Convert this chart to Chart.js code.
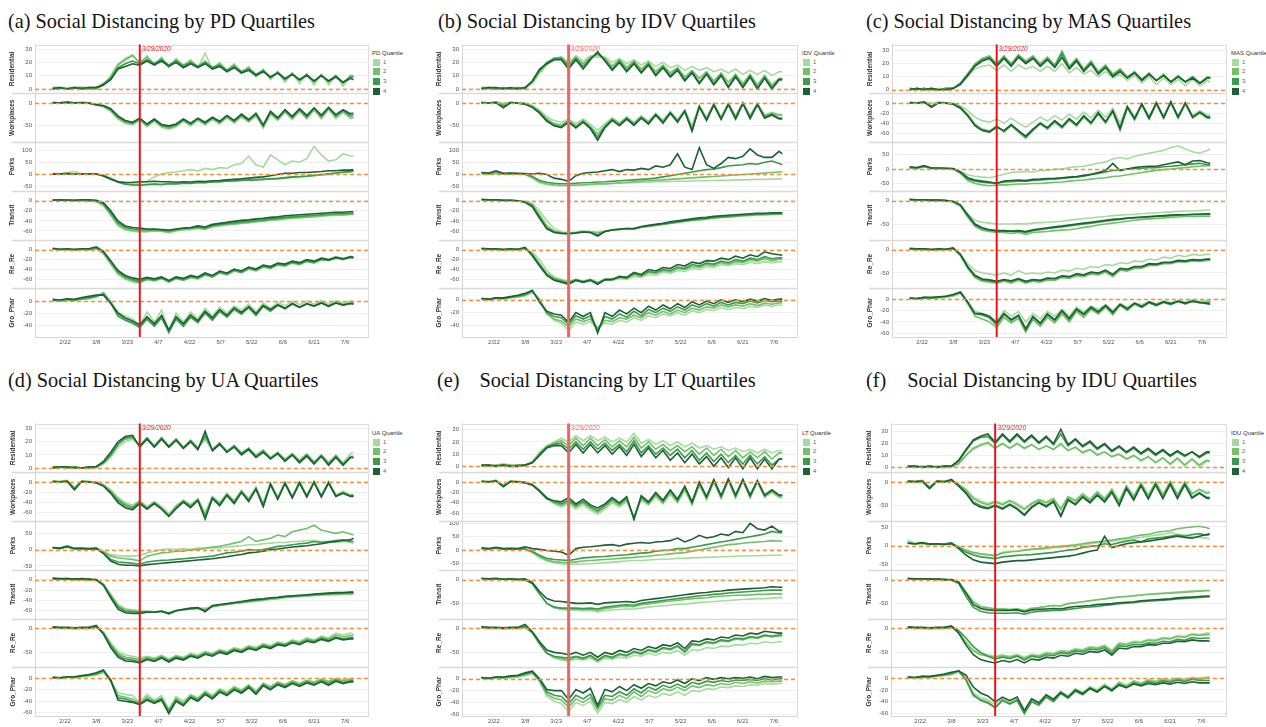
<!DOCTYPE html>
<html><head><meta charset="utf-8">
<script src="https://cdn.jsdelivr.net/npm/chart.js@4.4.1/dist/chart.umd.min.js"></script>
<style>
html,body{margin:0;padding:0;background:#fff}
body{width:1266px;height:727px;overflow:hidden;position:relative;font-family:'Liberation Sans',Arial,sans-serif}
.title{position:absolute;font-family:'Liberation Serif','Times New Roman',serif;font-size:20.3px;line-height:1;color:#151515;white-space:nowrap}
.cv{position:absolute}
.legend{position:absolute;font-size:6px;color:#333;width:60px;height:60px}
.legend .lt{position:absolute;left:0;top:0;line-height:8px;white-space:nowrap}
.legend .sw{position:absolute;left:1px;width:7px;height:7px}
.legend .ll{position:absolute;left:11px;line-height:7px;color:#666}
</style></head><body>
<script>
// ---------- shared axes data ----------
const days = [1,4.5,8,11.5,15,18.5,22,25.5,29,32.5,36,39.5,43,46.5,50,53.5,57,60.5,64,67.5,71,74.5,78,81.5,85,88.5,92,95.5,99,102.5,106,109.5,113,116.5,120,123.5,127,130.5,134,137.5,141,144.5,146];
const xTickDays = [7,22,37,52,67,82,97,112,127,142];
const xTickLabels = ['2/22','3/8','3/23','4/7','4/22','5/7','5/22','6/6','6/21','7/6'];
const rowNames = ['Residential','Workplaces','Parks','Transit','Re_Re','Gro_Phar'];
const quartileLabels = ['1','2','3','4'];
const quartileColors = ['#a6da9f','#72c068','#3b9a4b','#1d6035'];
const markerDay = 43;
const markerLabel = '3/29/2020';

// ---------- (a) PD ----------
const PD_Residential = [
[1,0,1,1,0,0,0,3,10,19,23,26,19,25,18,24,16,23,17,22,16,27,15,20,14,19,12,17,9,15,7,13,5,12,4,11,3,11,3,10,2,9,9],
[0,1,0,1,1,0,0,3,9,18,22,25,20,24,19,23,17,22,18,21,17,21,16,19,14,18,13,16,11,14,8,13,7,12,6,11,5,11,5,10,4,10,10],
[1,1,0,1,1,1,1,4,8,16,19,21,19,22,19,22,18,21,17,20,17,20,16,18,14,17,13,15,11,14,9,12,7,11,7,11,6,10,6,10,5,9,9],
[0,1,0,1,0,1,1,3,7,15,17,19,18,21,18,21,17,20,16,19,16,19,15,17,13,16,12,14,10,13,9,12,8,11,7,10,6,10,6,9,5,8,7]];
const PD_Workplaces = [
[2,1,2,0,2,1,-3,-8,-18,-35,-45,-48,-38,-52,-40,-53,-58,-52,-40,-50,-38,-48,-36,-46,-32,-44,-30,-42,-28,-55,-25,-38,-20,-36,-18,-35,-15,-35,-14,-34,-20,-34,-33],
[2,1,3,1,2,1,-2,-7,-16,-33,-43,-46,-36,-50,-38,-51,-55,-50,-38,-48,-36,-46,-34,-44,-30,-42,-28,-40,-26,-52,-22,-36,-18,-34,-16,-33,-13,-32,-12,-31,-18,-31,-30],
[1,0,2,0,1,0,-4,-6,-14,-30,-40,-44,-34,-48,-36,-49,-52,-48,-36,-46,-34,-44,-32,-42,-28,-40,-26,-38,-24,-50,-20,-34,-16,-31,-14,-30,-11,-29,-10,-28,-16,-27,-26],
[1,1,2,1,1,0,-3,-5,-12,-28,-38,-42,-33,-46,-35,-47,-50,-46,-35,-44,-33,-42,-31,-40,-27,-38,-24,-36,-22,-48,-18,-32,-14,-29,-12,-27,-10,-26,-9,-25,-14,-23,-22]];
const PD_Parks = [
[5,3,8,12,3,4,3,-5,-15,-28,-33,-37,-35,-28,-10,2,8,10,15,20,15,25,20,28,25,40,45,75,40,30,80,60,40,55,50,65,115,80,55,60,85,75,75],
[3,2,5,2,1,3,2,-3,-15,-30,-38,-42,-42,-40,-38,-40,-36,-38,-35,-36,-32,-33,-30,-30,-27,-26,-24,-23,-20,-20,-18,-18,-15,-12,-10,-8,-5,-2,0,5,8,10,12],
[2,3,4,1,2,2,1,-5,-18,-32,-40,-43,-44,-42,-40,-42,-38,-39,-36,-37,-33,-34,-31,-30,-28,-27,-25,-23,-22,-20,-18,-16,-13,-10,-8,-6,-3,0,3,6,10,12,15],
[1,2,3,1,1,2,2,-6,-20,-30,-33,-32,-30,-30,-28,-30,-30,-32,-30,-31,-28,-29,-26,-25,-22,-20,-18,-15,-12,-10,-5,0,5,5,8,8,10,12,15,15,18,18,20]];
const PD_Transit = [
[1,0,2,0,1,-1,-2,-10,-30,-50,-58,-61,-62,-62,-60,-61,-64,-60,-58,-57,-55,-57,-52,-50,-48,-47,-45,-44,-42,-41,-39,-38,-36,-35,-34,-33,-32,-31,-30,-29,-29,-28,-28],
[1,1,1,0,0,0,-1,-8,-27,-48,-56,-59,-60,-60,-59,-60,-62,-59,-57,-56,-54,-56,-51,-49,-47,-46,-44,-43,-41,-40,-38,-37,-35,-34,-33,-32,-31,-30,-29,-28,-28,-27,-27],
[2,1,2,1,1,0,0,-6,-24,-44,-53,-56,-57,-58,-57,-58,-60,-57,-55,-54,-52,-54,-49,-47,-45,-44,-42,-41,-39,-38,-36,-35,-33,-32,-31,-30,-29,-28,-27,-26,-26,-25,-25],
[1,2,1,1,2,2,1,-4,-20,-40,-50,-53,-54,-56,-56,-57,-58,-56,-54,-53,-50,-52,-47,-45,-43,-41,-39,-38,-36,-35,-33,-32,-30,-29,-28,-27,-26,-25,-24,-23,-23,-22,-22]];
const PD_Re_Re = [
[2,0,1,0,1,0,3,-8,-30,-50,-60,-65,-68,-60,-62,-58,-65,-58,-62,-55,-58,-50,-55,-46,-50,-42,-46,-38,-42,-34,-38,-30,-32,-25,-28,-22,-25,-18,-20,-15,-18,-13,-15],
[1,0,0,-1,0,0,2,-7,-28,-48,-58,-63,-66,-60,-63,-58,-66,-58,-62,-56,-59,-51,-56,-47,-51,-43,-47,-39,-43,-35,-38,-31,-33,-27,-30,-24,-27,-20,-22,-17,-20,-16,-17],
[2,1,1,0,1,1,4,-5,-25,-45,-55,-60,-64,-58,-61,-57,-64,-57,-60,-54,-57,-49,-54,-45,-49,-41,-45,-37,-41,-33,-36,-29,-31,-25,-28,-22,-25,-19,-21,-16,-19,-15,-16],
[3,1,2,1,2,2,6,-3,-22,-42,-52,-57,-60,-56,-59,-55,-62,-55,-58,-52,-55,-47,-52,-43,-47,-39,-43,-35,-39,-31,-34,-27,-29,-23,-26,-20,-23,-17,-20,-15,-18,-14,-15]];
const PD_Gro_Phar = [
[2,0,3,2,4,5,8,15,0,-18,-25,-30,-40,-18,-35,-15,-50,-20,-35,-18,-30,-12,-25,-10,-20,-8,-15,-5,-18,-3,-12,-2,-8,0,-6,0,-5,1,-5,1,-3,0,0],
[1,0,2,1,3,4,7,13,-2,-22,-30,-35,-42,-28,-40,-26,-52,-28,-40,-25,-35,-18,-30,-15,-25,-12,-20,-10,-22,-8,-15,-6,-12,-4,-10,-4,-8,-2,-8,-2,-6,-3,-3],
[2,1,3,2,4,6,8,12,-3,-25,-32,-37,-44,-30,-42,-28,-52,-30,-42,-27,-36,-20,-32,-17,-27,-14,-22,-11,-24,-9,-17,-7,-13,-5,-11,-5,-9,-3,-9,-3,-7,-4,-4],
[3,2,4,3,6,8,10,10,-4,-20,-28,-33,-40,-26,-38,-24,-48,-26,-38,-23,-33,-17,-28,-14,-24,-11,-19,-9,-21,-7,-14,-6,-12,-4,-10,-4,-8,-3,-8,-3,-6,-4,-5]];
const PD_ranges = [[-3.3,33.4],[-86,22],[-67,133],[-77,19.6],[-78,20.8],[-60,21.5]];
const PD_ticks = [[0,10,20,30],[-50,0],[-50,0,50,100],[-60,-40,-20,0],[-60,-40,-20,0],[-40,-20,0]];

// ---------- (b) IDV ----------
const IDV_Residential = [
[1,0,1,0,0,1,1,4,12,18,22,24,20,25,21,25,24,24,20,23,19,22,18,21,17,20,16,18,14,17,14,16,13,15,12,15,11,14,11,14,10,13,13],
[0,1,0,1,0,0,1,5,13,19,23,24,18,24,19,24,26,23,17,22,16,21,15,20,13,18,12,16,9,14,8,13,6,12,5,11,4,11,3,10,3,8,8],
[1,1,0,1,0,1,0,6,14,20,23,23,17,23,17,23,27,22,15,21,14,20,13,19,11,17,10,15,7,13,5,12,4,11,2,10,2,10,1,9,1,7,7],
[0,1,1,0,1,0,1,6,15,19,22,22,15,22,15,22,28,21,14,20,13,19,12,18,10,16,9,14,6,12,4,11,3,10,1,9,1,9,0,8,0,7,7]];
const IDV_Workplaces = [
[2,1,2,0,2,1,0,-5,-15,-30,-38,-42,-35,-45,-35,-47,-60,-45,-32,-43,-30,-42,-28,-40,-22,-38,-18,-36,-15,-50,-5,-32,0,-30,0,-28,2,-27,0,-26,-20,-25,-24],
[2,1,3,-2,2,1,0,-7,-18,-35,-45,-48,-38,-50,-38,-52,-68,-50,-35,-46,-32,-45,-30,-42,-24,-40,-20,-38,-16,-55,-6,-34,-2,-32,-1,-30,1,-29,-1,-28,-22,-27,-26],
[1,0,2,-6,1,0,-1,-8,-20,-38,-48,-52,-40,-53,-40,-54,-75,-52,-36,-48,-33,-47,-31,-44,-25,-42,-21,-40,-17,-60,-7,-36,-3,-34,-2,-32,0,-31,-2,-30,-24,-33,-33],
[1,0,1,-10,1,0,-2,-9,-22,-40,-50,-54,-42,-55,-42,-56,-82,-54,-38,-50,-35,-49,-33,-46,-26,-44,-22,-42,-18,-62,-8,-38,-4,-36,-3,-35,-1,-34,-3,-33,-26,-35,-35]];
const IDV_Parks = [
[3,2,4,1,2,1,0,-15,-35,-42,-45,-46,-45,-44,-43,-42,-40,-40,-38,-36,-35,-34,-33,-32,-30,-30,-29,-28,-28,-27,-26,-26,-25,-24,-24,-22,-22,-21,-20,-20,-19,-18,-18],
[4,2,6,2,3,2,1,-12,-30,-38,-42,-44,-45,-43,-42,-40,-38,-38,-36,-34,-32,-30,-28,-26,-24,-22,-20,-18,-16,-14,-12,-10,-8,-6,-4,-2,0,2,4,6,8,10,10],
[5,3,12,3,4,3,2,-8,-25,-32,-36,-38,-38,-36,-34,-33,-31,-30,-28,-26,-24,-22,-20,-18,-15,-10,-5,0,5,10,15,20,22,28,35,38,40,45,42,50,55,45,40],
[8,6,15,5,6,5,4,2,5,0,-15,-20,-28,-5,5,8,10,15,20,12,20,18,25,20,35,30,40,85,30,20,110,40,25,45,70,65,75,105,80,70,70,95,85]];
const IDV_Transit = [
[2,1,2,0,1,0,-1,-5,-20,-40,-55,-62,-63,-62,-60,-61,-62,-60,-57,-56,-55,-56,-52,-50,-48,-46,-44,-42,-40,-38,-37,-36,-34,-33,-32,-31,-30,-30,-29,-28,-28,-27,-27],
[1,1,1,0,0,0,-2,-8,-28,-50,-60,-63,-64,-63,-61,-62,-64,-61,-58,-57,-56,-56,-53,-51,-49,-47,-45,-43,-41,-39,-38,-36,-34,-33,-32,-31,-30,-29,-28,-28,-27,-27,-27],
[2,1,2,1,1,0,-3,-10,-32,-54,-62,-64,-65,-64,-62,-63,-68,-61,-58,-57,-55,-56,-52,-50,-48,-46,-44,-42,-40,-38,-36,-35,-33,-32,-31,-30,-29,-28,-27,-27,-26,-26,-26],
[3,2,2,1,1,0,-3,-12,-35,-56,-63,-65,-66,-64,-62,-63,-70,-61,-58,-56,-55,-55,-51,-49,-47,-45,-42,-40,-38,-36,-34,-33,-31,-30,-29,-28,-27,-26,-25,-25,-24,-24,-24]];
const IDV_Re_Re = [
[2,1,1,0,0,0,3,-5,-20,-42,-55,-60,-64,-60,-64,-60,-66,-60,-62,-58,-60,-54,-56,-50,-52,-45,-48,-42,-44,-38,-40,-34,-36,-30,-32,-28,-30,-25,-28,-24,-26,-24,-24],
[1,0,0,-1,0,0,2,-8,-28,-48,-58,-62,-66,-60,-64,-60,-67,-60,-61,-56,-58,-50,-54,-46,-48,-42,-45,-38,-40,-34,-36,-30,-32,-26,-29,-24,-26,-20,-23,-18,-22,-19,-19],
[2,1,1,0,1,1,3,-10,-30,-50,-60,-64,-68,-61,-65,-61,-68,-60,-60,-55,-57,-48,-52,-44,-46,-40,-42,-35,-38,-30,-33,-27,-29,-23,-26,-20,-23,-17,-20,-14,-18,-16,-16],
[3,2,2,1,2,1,5,-12,-33,-52,-62,-66,-70,-62,-66,-62,-70,-61,-60,-54,-56,-46,-50,-40,-43,-36,-38,-30,-33,-25,-28,-22,-23,-17,-20,-13,-17,-10,-14,-4,-8,-10,-11]];
const IDV_Gro_Phar = [
[1,0,2,1,3,4,6,12,2,-20,-32,-36,-48,-35,-38,-34,-45,-36,-38,-32,-35,-28,-32,-25,-28,-22,-25,-20,-24,-17,-20,-15,-17,-12,-15,-12,-14,-10,-12,-8,-10,-8,-8],
[1,0,2,2,4,5,7,13,0,-22,-30,-33,-42,-30,-34,-30,-44,-32,-34,-28,-30,-24,-28,-20,-24,-18,-22,-16,-20,-13,-16,-11,-13,-8,-11,-8,-10,-6,-9,-5,-7,-5,-5],
[2,1,3,2,4,6,8,14,-2,-20,-26,-28,-38,-25,-30,-25,-48,-26,-30,-22,-27,-18,-25,-15,-20,-13,-18,-11,-16,-8,-12,-6,-10,-4,-8,-4,-6,-2,-5,-1,-3,-2,-2],
[2,1,3,3,5,7,10,15,-4,-18,-22,-24,-35,-20,-26,-20,-52,-20,-26,-16,-22,-13,-20,-10,-16,-8,-14,-6,-12,-3,-8,-2,-6,0,-4,0,-3,1,-2,2,-1,1,1]];
const IDV_ranges = [[-3.3,33.4],[-86,22],[-67,133],[-77,19.6],[-78,20.8],[-58,18]];
const IDV_ticks = [[0,10,20,30],[-50,0],[-50,0,50,100],[-60,-40,-20,0],[-60,-40,-20,0],[-40,-20,0]];

// ---------- (c) MAS ----------
const MAS_Residential = [
[1,0,1,0,1,0,1,4,10,16,18,19,15,19,14,19,16,18,14,18,14,20,13,17,12,15,10,14,9,12,7,11,5,10,4,9,4,8,3,8,3,7,6],
[0,1,0,1,0,1,1,5,12,20,24,26,20,26,20,27,22,26,20,25,19,30,18,24,16,22,14,19,12,16,10,14,8,13,7,12,6,11,6,10,5,10,10],
[1,0,1,0,0,1,1,5,12,19,23,25,19,25,19,26,21,25,19,24,18,28,17,23,15,21,13,18,11,15,9,13,8,12,7,11,6,10,6,10,5,9,9],
[0,1,0,1,0,0,1,4,11,18,22,24,18,24,18,25,20,24,18,23,17,25,16,22,14,20,12,17,10,14,9,13,7,12,7,11,6,10,6,9,5,9,9]];
const MAS_Workplaces = [
[2,1,2,0,2,1,0,-5,-15,-28,-35,-38,-32,-40,-30,-40,-48,-38,-28,-36,-25,-34,-22,-32,-18,-30,-14,-28,-10,-40,-6,-27,-2,-26,0,-25,0,-25,0,-24,-15,-24,-24],
[2,1,3,-5,2,1,-1,-8,-22,-42,-52,-56,-45,-58,-45,-58,-70,-55,-42,-52,-38,-50,-34,-46,-28,-42,-22,-40,-18,-55,-10,-34,-4,-32,-2,-30,0,-30,-2,-30,-20,-30,-30],
[1,0,2,-7,1,0,-1,-9,-24,-44,-54,-57,-47,-56,-44,-56,-68,-53,-40,-50,-36,-48,-32,-44,-26,-40,-20,-38,-16,-52,-8,-32,-2,-30,0,-29,2,-28,0,-28,-18,-28,-28],
[1,0,2,-8,1,0,-2,-10,-25,-45,-55,-58,-48,-55,-43,-55,-66,-52,-40,-49,-35,-47,-31,-43,-25,-39,-19,-37,-15,-50,-7,-31,-1,-30,1,-29,3,-28,1,-28,-18,-28,-29]];
const MAS_Parks = [
[5,3,8,2,3,2,1,-8,-20,-25,-28,-30,-25,-18,-12,-10,-8,-10,-5,-5,0,0,5,8,10,15,20,25,35,40,35,45,50,55,60,65,75,80,70,60,55,65,70],
[4,3,8,2,2,2,0,-15,-40,-50,-55,-58,-56,-55,-54,-52,-52,-50,-50,-48,-46,-45,-42,-40,-38,-35,-32,-30,-26,-24,-20,-16,-12,-8,-5,-2,0,3,5,8,10,12,12],
[6,4,10,3,3,2,1,-12,-35,-42,-46,-48,-48,-45,-44,-42,-42,-40,-38,-36,-35,-33,-30,-28,-25,-20,-15,-10,-5,-3,0,2,3,5,5,8,10,12,15,18,20,15,15],
[8,5,12,4,4,3,2,-10,-30,-38,-42,-45,-50,-42,-40,-38,-40,-36,-35,-33,-32,-30,-28,-26,-22,-18,-12,-5,20,-5,0,5,8,10,10,15,20,25,15,28,30,22,20]];
const MAS_Transit = [
[2,1,2,0,1,0,-2,-10,-28,-42,-46,-48,-50,-50,-50,-49,-50,-48,-47,-46,-45,-44,-42,-40,-38,-37,-35,-34,-32,-31,-30,-29,-28,-27,-26,-25,-24,-23,-22,-22,-21,-20,-20],
[1,1,1,0,0,0,-3,-12,-35,-55,-63,-66,-68,-68,-70,-68,-72,-68,-67,-66,-64,-63,-62,-60,-57,-55,-52,-50,-48,-46,-44,-42,-40,-39,-38,-37,-36,-35,-34,-34,-33,-33,-33],
[2,1,2,1,1,0,-2,-10,-32,-52,-60,-63,-65,-65,-66,-65,-68,-64,-62,-60,-58,-56,-54,-52,-50,-48,-46,-44,-42,-40,-38,-37,-36,-35,-34,-33,-32,-31,-30,-30,-29,-29,-29],
[3,2,2,1,1,0,-2,-9,-30,-50,-58,-62,-64,-64,-65,-64,-66,-62,-60,-58,-56,-54,-52,-50,-48,-46,-44,-42,-40,-39,-37,-36,-35,-34,-33,-32,-31,-30,-30,-29,-29,-28,-28]];
const MAS_Re_Re = [
[2,1,1,0,0,0,3,-10,-30,-45,-50,-52,-55,-50,-55,-45,-52,-50,-52,-48,-50,-44,-46,-40,-42,-36,-38,-32,-34,-28,-30,-24,-26,-20,-22,-16,-18,-12,-15,-10,-12,-10,-10],
[1,0,0,-1,0,0,2,-12,-40,-60,-68,-70,-72,-68,-72,-66,-72,-68,-70,-65,-66,-60,-62,-56,-58,-52,-54,-48,-58,-44,-46,-40,-40,-34,-34,-30,-30,-26,-27,-24,-25,-23,-23],
[2,1,1,0,1,1,3,-11,-38,-57,-65,-67,-70,-65,-69,-63,-70,-65,-67,-62,-63,-57,-59,-53,-55,-49,-51,-45,-55,-41,-43,-37,-37,-31,-32,-28,-28,-24,-25,-22,-23,-21,-21],
[3,2,2,1,2,1,4,-10,-36,-55,-63,-65,-68,-64,-67,-62,-68,-64,-66,-61,-62,-56,-58,-52,-54,-48,-50,-44,-53,-40,-42,-36,-36,-30,-31,-27,-27,-23,-24,-21,-22,-20,-20]];
const MAS_Gro_Phar = [
[1,0,2,1,2,3,5,10,-5,-22,-25,-30,-40,-20,-30,-22,-40,-25,-35,-22,-30,-18,-30,-14,-22,-12,-18,-10,-20,-8,-14,-6,-10,-4,-8,-3,-6,-2,-5,-1,-4,-2,-2],
[1,0,2,2,3,4,6,12,-8,-30,-35,-40,-50,-32,-42,-34,-58,-36,-48,-32,-42,-26,-40,-22,-32,-18,-26,-14,-28,-11,-20,-9,-15,-7,-12,-6,-10,-4,-9,-3,-7,-5,-5],
[2,1,3,2,3,5,7,13,-6,-26,-28,-33,-45,-27,-38,-30,-55,-32,-44,-28,-38,-22,-36,-19,-28,-16,-24,-12,-25,-10,-18,-8,-14,-6,-11,-5,-9,-4,-8,-3,-6,-6,-6],
[2,1,3,3,4,5,8,12,-5,-25,-26,-30,-42,-25,-36,-28,-52,-30,-42,-26,-36,-20,-34,-17,-26,-14,-22,-11,-23,-9,-17,-7,-13,-5,-10,-5,-8,-4,-7,-4,-6,-8,-9]];
const MAS_ranges = [[-2.8,34.7],[-78,19.8],[-75.6,94],[-83,21],[-83,22],[-66.6,19]];
const MAS_ticks = [[0,10,20,30],[-60,-40,-20,0],[-50,0,50],[-50,0],[-50,0],[-60,-40,-20,0]];

// ---------- (d) UA ----------
const UA_Residential = [
[1,0,1,0,0,0,0,3,8,16,20,22,17,23,17,23,17,22,16,21,15,22,14,19,13,17,12,15,10,14,8,12,7,11,6,11,5,10,4,10,4,11,12],
[0,1,0,1,0,1,1,4,10,18,22,23,17,23,17,23,17,22,16,21,15,23,14,19,13,17,11,15,9,13,8,12,6,11,5,10,4,10,4,9,3,9,9],
[1,1,0,1,0,0,1,4,10,18,23,24,17,23,16,23,16,22,15,21,15,25,14,19,12,17,11,15,9,13,7,11,6,10,5,10,4,9,3,9,3,8,8],
[0,1,1,0,0,1,1,5,12,20,24,25,16,22,16,22,16,21,15,20,14,28,13,18,12,16,10,14,8,12,7,11,5,10,4,9,3,9,2,8,2,8,8]];
const UA_Workplaces = [
[2,1,2,-10,2,1,0,-5,-15,-30,-40,-45,-36,-48,-38,-48,-62,-46,-35,-44,-32,-60,-28,-40,-22,-36,-16,-32,-10,-40,-2,-30,0,-28,0,-26,0,-26,0,-25,-18,-25,-24],
[2,1,3,-12,2,1,-1,-6,-18,-33,-43,-48,-38,-50,-40,-50,-65,-48,-36,-46,-34,-64,-30,-42,-24,-38,-18,-34,-12,-44,-3,-31,-1,-29,0,-27,1,-27,0,-26,-20,-26,-25],
[1,0,2,-14,1,0,-1,-7,-20,-36,-46,-51,-40,-52,-41,-52,-66,-50,-38,-48,-35,-68,-31,-44,-25,-40,-19,-36,-13,-46,-4,-32,-2,-30,-1,-28,0,-28,-1,-27,-21,-27,-27],
[1,0,1,-15,1,0,-2,-8,-22,-40,-50,-54,-42,-53,-42,-53,-67,-52,-39,-50,-36,-72,-32,-46,-26,-42,-20,-38,-14,-48,-5,-34,-3,-31,-2,-29,-1,-29,-2,-28,-22,-28,-28]];
const UA_Parks = [
[5,3,8,2,3,2,5,-5,-15,-18,-20,-20,-18,-10,-5,0,2,0,3,0,5,3,6,5,8,10,12,15,15,18,20,22,22,25,25,28,28,25,25,22,25,22,20],
[6,4,10,3,4,3,6,-8,-20,-25,-28,-30,-35,-20,-15,-10,-8,-5,-5,0,0,5,8,10,15,20,25,40,25,30,35,45,40,55,60,65,75,60,55,50,55,48,45],
[7,5,12,4,5,3,4,-10,-30,-38,-40,-42,-45,-38,-35,-33,-32,-30,-28,-26,-24,-22,-20,-15,-10,-8,-5,0,-2,0,5,10,12,15,18,20,25,22,25,28,30,25,25],
[6,4,9,3,3,2,3,-12,-35,-45,-48,-48,-50,-46,-44,-42,-40,-38,-36,-34,-32,-30,-28,-25,-22,-18,-15,-10,-8,-5,0,2,5,8,10,12,15,18,22,25,28,30,35]];
const UA_Transit = [
[2,1,2,0,1,0,-1,-8,-28,-48,-56,-58,-60,-60,-62,-60,-64,-59,-57,-56,-55,-55,-52,-50,-48,-46,-45,-43,-42,-40,-38,-37,-35,-34,-33,-32,-31,-30,-30,-29,-29,-28,-28],
[1,1,1,0,0,0,-1,-9,-30,-50,-58,-60,-62,-62,-63,-61,-66,-60,-58,-57,-55,-58,-52,-50,-48,-46,-44,-42,-41,-39,-37,-36,-34,-33,-32,-31,-30,-29,-28,-28,-27,-27,-27],
[2,1,2,1,1,0,-1,-10,-32,-53,-61,-62,-63,-62,-63,-61,-66,-60,-58,-56,-55,-60,-51,-49,-47,-45,-43,-41,-39,-38,-36,-35,-33,-32,-31,-30,-29,-28,-27,-26,-26,-25,-25],
[3,2,2,1,2,1,0,-11,-35,-57,-64,-65,-65,-63,-63,-61,-65,-60,-57,-55,-54,-62,-50,-48,-46,-44,-42,-40,-38,-37,-35,-34,-32,-31,-30,-29,-28,-27,-26,-25,-25,-24,-24]];
const UA_Re_Re = [
[2,1,1,0,0,0,3,-8,-30,-48,-55,-58,-62,-58,-62,-56,-64,-56,-60,-52,-56,-48,-52,-44,-48,-40,-44,-36,-40,-32,-36,-28,-32,-24,-28,-20,-24,-16,-20,-10,-14,-10,-12],
[1,0,0,-1,0,0,2,-9,-33,-52,-60,-62,-66,-60,-64,-58,-66,-58,-62,-54,-58,-50,-54,-46,-50,-42,-46,-38,-42,-34,-38,-30,-33,-26,-30,-22,-26,-18,-22,-14,-18,-15,-15],
[2,1,1,0,1,1,4,-10,-36,-56,-64,-66,-70,-63,-67,-60,-68,-60,-64,-56,-60,-52,-56,-48,-52,-44,-48,-40,-44,-36,-40,-32,-35,-28,-32,-25,-28,-21,-25,-18,-22,-19,-19],
[3,2,2,1,2,2,6,-12,-40,-60,-68,-69,-72,-65,-69,-62,-70,-62,-66,-58,-62,-54,-58,-50,-54,-46,-50,-42,-46,-38,-42,-34,-37,-30,-34,-27,-30,-23,-27,-20,-24,-22,-22]];
const UA_Gro_Phar = [
[1,0,2,1,3,4,6,10,-5,-25,-28,-30,-42,-28,-38,-30,-55,-32,-40,-28,-34,-22,-30,-18,-24,-14,-20,-11,-22,-8,-14,-6,-10,-4,-8,-3,-6,-1,-5,0,-3,0,0],
[1,0,2,2,4,5,7,12,-3,-30,-33,-36,-44,-32,-40,-34,-55,-35,-44,-30,-36,-24,-32,-20,-26,-16,-22,-12,-24,-9,-16,-7,-12,-5,-10,-4,-7,-2,-6,-1,-4,-2,-2],
[2,1,3,2,4,6,8,14,-2,-34,-36,-40,-45,-36,-42,-36,-58,-38,-46,-32,-38,-26,-34,-22,-28,-18,-24,-14,-26,-11,-18,-9,-14,-7,-12,-6,-10,-4,-9,-3,-7,-4,-4],
[2,1,3,3,5,7,10,15,-4,-38,-40,-42,-46,-38,-44,-38,-62,-40,-48,-34,-40,-28,-36,-24,-30,-20,-26,-16,-28,-13,-20,-11,-16,-9,-14,-8,-12,-6,-12,-5,-9,-6,-6]];
const UA_ranges = [[-3.3,33.9],[-76,18.8],[-62,87.8],[-75,19],[-81,20.4],[-66,19.6]];
const UA_ticks = [[0,10,20,30],[-60,-40,-20,0],[-50,0,50],[-60,-40,-20,0],[-50,0],[-60,-40,-20,0]];

// ---------- (e) LT ----------
const LT_Residential = [
[1,1,1,2,1,1,1,4,12,17,20,23,20,25,21,25,21,24,20,23,20,27,19,22,18,21,17,20,16,19,15,17,14,16,13,15,12,14,11,14,11,13,13],
[1,0,1,1,1,0,1,3,10,16,19,21,17,23,17,23,17,22,16,21,16,24,15,20,14,18,13,17,12,16,10,15,9,14,8,13,7,12,7,12,6,11,11],
[0,1,0,1,0,1,1,3,10,16,18,19,14,20,14,20,14,19,13,18,12,21,11,17,10,15,9,14,7,13,5,11,4,10,3,9,2,9,2,8,1,6,6],
[1,1,0,1,0,0,1,3,9,15,17,17,11,18,11,18,11,17,10,16,9,18,8,15,7,13,5,11,3,10,2,8,0,7,-1,7,-2,7,-2,6,-2,6,6]];
const LT_Workplaces = [
[2,1,3,-5,2,1,0,-4,-15,-32,-42,-48,-42,-52,-44,-54,-62,-52,-40,-48,-38,-65,-35,-44,-28,-42,-24,-40,-16,-44,-6,-34,0,-32,2,-31,2,-31,0,-30,-20,-30,-30],
[2,1,3,-7,2,1,0,-5,-16,-30,-40,-45,-38,-48,-40,-50,-58,-48,-36,-45,-34,-68,-32,-42,-25,-40,-20,-38,-13,-42,-4,-32,2,-30,4,-29,3,-29,1,-28,-18,-28,-28],
[1,0,2,-8,1,0,-1,-5,-17,-30,-38,-42,-35,-45,-37,-47,-55,-45,-33,-42,-31,-70,-29,-40,-22,-37,-17,-35,-10,-40,-2,-30,3,-28,5,-27,4,-27,2,-26,-16,-26,-26],
[1,0,2,-9,1,0,-2,-6,-18,-32,-36,-38,-30,-42,-33,-44,-50,-42,-30,-40,-28,-72,-26,-38,-20,-35,-15,-33,-8,-38,0,-28,5,-26,6,-25,5,-25,3,-25,-15,-25,-25]];
const LT_Parks = [
[3,2,5,2,3,2,2,-10,-30,-42,-48,-52,-55,-54,-53,-52,-50,-48,-46,-44,-42,-40,-40,-38,-36,-35,-34,-32,-32,-30,-29,-28,-27,-26,-25,-24,-23,-22,-22,-21,-20,-20,-19],
[5,3,8,3,4,3,3,-8,-25,-38,-45,-47,-48,-45,-42,-40,-38,-36,-34,-32,-30,-28,-26,-24,-20,-18,-15,-12,-10,-5,0,5,10,15,20,22,25,28,30,32,35,34,33],
[6,4,8,4,5,4,4,-6,-20,-32,-36,-38,-40,-35,-30,-28,-26,-25,-22,-20,-18,-15,-12,-10,-5,-2,0,5,5,10,15,20,25,30,35,40,45,50,55,60,70,65,65],
[8,5,10,5,6,5,12,5,2,-2,-5,-8,-20,5,10,12,15,18,20,15,22,25,28,25,30,32,35,45,30,40,55,45,50,60,55,70,65,100,80,75,90,70,70]];
const LT_Transit = [
[1,0,2,0,1,0,-1,-8,-30,-50,-60,-63,-65,-64,-66,-65,-68,-65,-64,-63,-62,-62,-60,-58,-56,-55,-54,-52,-52,-50,-48,-47,-46,-45,-44,-43,-42,-41,-40,-40,-39,-38,-38],
[2,1,2,1,1,0,-1,-8,-30,-50,-58,-61,-62,-62,-63,-62,-65,-61,-59,-57,-56,-57,-53,-51,-49,-47,-45,-44,-42,-40,-39,-38,-36,-35,-34,-33,-33,-32,-31,-31,-30,-30,-30],
[2,1,2,1,1,0,-1,-8,-30,-50,-58,-60,-60,-60,-61,-60,-62,-58,-56,-54,-53,-54,-50,-48,-46,-44,-42,-40,-38,-36,-34,-33,-31,-30,-28,-27,-26,-25,-24,-23,-22,-22,-22],
[3,2,3,1,2,1,2,-6,-25,-40,-45,-46,-48,-50,-50,-49,-52,-49,-48,-47,-46,-48,-44,-42,-40,-38,-36,-34,-32,-30,-28,-27,-25,-24,-22,-21,-20,-19,-18,-17,-15,-16,-16]];
const LT_Re_Re = [
[2,1,1,0,0,0,3,-8,-30,-50,-62,-66,-68,-64,-66,-62,-70,-62,-64,-60,-62,-56,-58,-52,-56,-50,-52,-46,-56,-44,-46,-40,-42,-37,-38,-34,-35,-31,-32,-28,-30,-28,-28],
[1,0,0,-1,0,0,2,-9,-32,-52,-60,-63,-66,-60,-64,-58,-68,-58,-62,-55,-58,-50,-54,-46,-50,-42,-45,-38,-50,-34,-36,-30,-32,-26,-28,-22,-24,-19,-21,-16,-18,-16,-16],
[2,1,1,0,1,1,4,-9,-32,-52,-58,-60,-62,-58,-62,-56,-66,-56,-60,-53,-56,-48,-52,-44,-48,-40,-43,-36,-48,-32,-34,-28,-30,-24,-26,-20,-22,-17,-19,-14,-16,-14,-14],
[3,2,2,1,2,2,8,-7,-28,-45,-50,-52,-55,-50,-56,-50,-60,-50,-54,-46,-50,-42,-46,-38,-42,-34,-37,-30,-42,-26,-28,-22,-24,-18,-20,-14,-16,-10,-12,-6,-8,-10,-10]];
const LT_Gro_Phar = [
[1,0,2,1,2,3,5,8,-5,-30,-38,-42,-55,-40,-45,-38,-58,-40,-42,-35,-40,-30,-36,-28,-32,-25,-28,-22,-28,-20,-22,-17,-18,-14,-15,-12,-13,-10,-11,-8,-9,-8,-8],
[1,0,2,2,3,4,7,10,-3,-26,-33,-36,-48,-34,-40,-32,-52,-34,-36,-28,-34,-22,-30,-20,-25,-17,-20,-14,-20,-12,-15,-10,-12,-8,-10,-6,-8,-5,-7,-4,-5,-4,-4],
[2,1,3,2,4,5,8,12,-2,-22,-28,-30,-42,-28,-34,-26,-48,-28,-30,-22,-28,-17,-24,-14,-19,-11,-15,-9,-15,-6,-9,-4,-6,-3,-5,-2,-3,-1,-3,0,-2,0,0],
[2,1,3,3,5,6,10,13,0,-18,-20,-20,-35,-18,-24,-16,-45,-18,-22,-13,-20,-10,-16,-8,-12,-5,-8,-2,-8,0,-3,2,-1,2,0,2,1,3,0,4,2,3,3]];
const LT_ranges = [[-4.9,35],[-75,18.6],[-75,109],[-82,20.8],[-81,20.4],[-63,19.5]];
const LT_ticks = [[0,10,20,30],[-60,-40,-20,0],[-50,0,50,100],[-50,0],[-50,0],[-60,-40,-20,0]];

// ---------- (f) IDU ----------
const IDU_Residential = [
[0,1,0,1,0,0,0,3,10,15,18,20,16,20,16,20,16,19,15,18,15,19,14,17,13,15,11,13,9,11,7,10,5,9,4,8,2,7,1,7,0,5,5],
[1,0,1,0,1,0,1,3,10,16,19,21,16,20,16,20,16,19,15,18,15,20,14,17,12,15,10,13,9,11,7,10,6,9,4,8,3,8,2,7,2,6,5],
[0,1,0,1,0,1,1,5,14,22,25,26,20,27,21,27,21,26,20,25,19,28,18,23,17,21,15,19,13,17,12,16,11,15,10,14,9,13,9,13,8,12,12],
[1,1,0,1,0,1,1,6,15,23,26,28,21,28,22,28,22,27,21,26,20,32,19,24,18,22,16,20,14,18,13,17,12,16,11,15,10,14,10,13,9,13,13]];
const IDU_Workplaces = [
[2,1,2,-10,2,1,3,-5,-15,-32,-40,-45,-40,-45,-38,-45,-55,-44,-36,-42,-34,-55,-30,-38,-24,-36,-20,-34,-15,-40,-8,-30,-2,-28,0,-26,1,-26,0,-24,-15,-22,-20],
[2,1,3,-12,2,1,2,-6,-17,-35,-43,-48,-42,-48,-40,-48,-58,-46,-38,-44,-36,-58,-32,-40,-26,-38,-22,-36,-16,-42,-9,-31,-3,-29,-1,-27,0,-27,-1,-25,-16,-24,-22],
[1,0,2,-13,1,0,4,-8,-22,-42,-50,-54,-48,-55,-46,-55,-68,-52,-42,-50,-40,-70,-36,-46,-30,-42,-26,-40,-20,-48,-12,-36,-6,-34,-4,-33,-3,-33,-4,-32,-22,-32,-32],
[1,0,1,-14,1,0,5,-9,-24,-45,-53,-56,-50,-57,-48,-57,-70,-54,-44,-52,-42,-72,-38,-48,-32,-44,-28,-42,-22,-50,-14,-38,-8,-36,-6,-35,-5,-35,-6,-34,-24,-34,-35]];
const IDU_Parks = [
[15,5,8,3,5,3,5,-5,-15,-20,-22,-25,-25,-18,-15,-15,-12,-10,-10,-8,-5,-5,-2,0,2,5,8,10,12,15,18,20,22,25,28,30,35,30,28,25,22,20,18],
[8,4,6,3,4,3,6,-3,-12,-18,-22,-24,-28,-20,-17,-15,-12,-10,-8,-6,-4,-2,0,2,5,8,10,12,15,18,20,25,28,30,35,38,40,45,48,50,52,48,45],
[6,5,7,4,5,4,8,-5,-18,-25,-30,-32,-35,-30,-28,-26,-25,-24,-22,-20,-18,-15,-12,-10,-5,-2,0,5,3,8,12,15,10,18,20,22,25,28,25,30,32,28,30],
[7,5,8,4,5,3,5,-8,-25,-38,-44,-46,-48,-44,-42,-40,-40,-38,-36,-34,-32,-30,-28,-25,-20,-15,-12,25,-5,0,5,8,10,12,15,18,22,25,22,20,25,30,32]];
const IDU_Transit = [
[1,0,2,0,1,0,-1,-6,-25,-45,-55,-58,-60,-60,-62,-60,-64,-59,-58,-56,-54,-55,-50,-48,-46,-44,-42,-40,-38,-36,-35,-33,-32,-30,-29,-28,-27,-26,-25,-24,-23,-22,-22],
[2,1,2,1,1,0,-1,-7,-27,-47,-57,-59,-61,-61,-63,-61,-65,-60,-58,-56,-54,-55,-50,-48,-46,-44,-42,-40,-38,-36,-35,-34,-32,-31,-30,-29,-28,-27,-26,-25,-24,-23,-23],
[2,1,2,1,1,0,-1,-8,-35,-58,-66,-69,-70,-70,-70,-69,-72,-68,-66,-65,-64,-64,-62,-60,-58,-57,-56,-54,-52,-50,-49,-48,-46,-45,-44,-43,-42,-40,-39,-38,-37,-36,-36],
[3,2,2,1,1,0,0,-5,-28,-52,-60,-63,-64,-64,-64,-63,-67,-63,-62,-61,-60,-61,-58,-56,-55,-54,-52,-51,-50,-48,-47,-46,-44,-43,-42,-41,-40,-38,-37,-36,-35,-34,-34]];
const IDU_Re_Re = [
[2,1,1,0,0,0,3,-8,-28,-45,-52,-55,-58,-55,-58,-54,-60,-54,-56,-50,-52,-46,-48,-42,-44,-38,-40,-35,-46,-30,-32,-27,-28,-23,-24,-19,-20,-15,-17,-11,-13,-10,-10],
[1,0,0,-1,0,0,2,-9,-30,-47,-55,-58,-60,-57,-60,-56,-62,-56,-58,-52,-54,-48,-50,-44,-46,-40,-42,-37,-48,-32,-34,-29,-30,-25,-26,-21,-22,-17,-19,-13,-15,-13,-13],
[2,1,1,0,1,1,4,-5,-20,-38,-50,-58,-64,-60,-63,-58,-66,-58,-61,-55,-57,-51,-53,-47,-49,-43,-45,-40,-52,-36,-38,-33,-34,-30,-31,-27,-28,-23,-25,-19,-21,-20,-20],
[3,2,2,1,2,2,5,-10,-35,-55,-65,-69,-72,-67,-70,-65,-72,-64,-66,-60,-62,-56,-58,-52,-54,-48,-50,-45,-56,-41,-43,-38,-38,-34,-35,-31,-31,-27,-28,-24,-26,-26,-27]];
const IDU_Gro_Phar = [
[1,0,2,1,3,4,6,10,-2,-25,-33,-36,-45,-33,-38,-32,-55,-35,-40,-28,-35,-22,-30,-18,-24,-14,-20,-10,-18,-6,-12,-4,-8,-2,-5,-1,-3,0,-2,1,0,2,2],
[1,0,2,2,4,5,7,12,-4,-30,-36,-40,-50,-36,-42,-36,-58,-38,-44,-30,-38,-24,-32,-20,-26,-16,-22,-12,-20,-8,-14,-6,-10,-4,-7,-3,-5,-1,-4,0,-2,0,0],
[2,1,3,2,4,6,8,13,-2,-28,-38,-42,-50,-38,-44,-38,-60,-40,-46,-32,-40,-26,-34,-22,-28,-18,-24,-14,-22,-10,-16,-8,-12,-6,-9,-5,-7,-3,-6,-2,-4,-4,-4],
[2,1,3,3,5,7,10,12,5,-15,-25,-30,-40,-32,-38,-32,-55,-35,-42,-28,-36,-24,-32,-20,-26,-17,-23,-14,-20,-12,-16,-10,-13,-9,-11,-8,-10,-7,-9,-6,-8,-8,-8]];
const IDU_ranges = [[-4.2,36.7],[-82,20],[-64.6,65.7],[-81,20.5],[-81,20.4],[-64,18.4]];
const IDU_ticks = [[0,10,20,30],[-50,0],[-50,0,50],[-50,0],[-50,0],[-60,-40,-20,0]];

// ---------- panel configuration ----------
const panels = [
 {key:'a', pre:'(a) ', title:'Social Distancing by PD Quartiles', gap:0, legend:'PD Quartile',
  rows:[PD_Residential,PD_Workplaces,PD_Parks,PD_Transit,PD_Re_Re,PD_Gro_Phar], ranges:PD_ranges, ticks:PD_ticks,
  box:{left:35,right:368,top:48,bottom:337}, tx:8, ty:11, lx:372, ly:49, xMin:-7.5, xMax:153, red:'#e8141c', redW:2},
 {key:'b', pre:'(b) ', title:'Social Distancing by IDV Quartiles', gap:0, legend:'IDV Quartile',
  rows:[IDV_Residential,IDV_Workplaces,IDV_Parks,IDV_Transit,IDV_Re_Re,IDV_Gro_Phar], ranges:IDV_ranges, ticks:IDV_ticks,
  box:{left:462,right:797,top:48,bottom:337}, tx:438, ty:11, lx:802, ly:49, xMin:-8.4, xMax:153.1, red:'#f2645f', redW:3},
 {key:'c', pre:'(c) ', title:'Social Distancing by MAS Quartiles', gap:0, legend:'MAS Quartile',
  rows:[MAS_Residential,MAS_Workplaces,MAS_Parks,MAS_Transit,MAS_Re_Re,MAS_Gro_Phar], ranges:MAS_ranges, ticks:MAS_ticks,
  box:{left:892,right:1226,top:48,bottom:337}, tx:866, ty:11, lx:1231, ly:49, xMin:-7.5, xMax:153.6, red:'#e8141c', redW:2},
 {key:'d', pre:'(d) ', title:'Social Distancing by UA Quartiles', gap:0, legend:'UA Quartile',
  rows:[UA_Residential,UA_Workplaces,UA_Parks,UA_Transit,UA_Re_Re,UA_Gro_Phar], ranges:UA_ranges, ticks:UA_ticks,
  box:{left:35,right:368,top:427,bottom:716}, tx:8, ty:370, lx:372, ly:429, xMin:-7.5, xMax:153, red:'#e8141c', redW:2},
 {key:'e', pre:'(e)', title:'Social Distancing by LT Quartiles', gap:20, legend:'LT Quartile',
  rows:[LT_Residential,LT_Workplaces,LT_Parks,LT_Transit,LT_Re_Re,LT_Gro_Phar], ranges:LT_ranges, ticks:LT_ticks,
  box:{left:462,right:797,top:427,bottom:716}, tx:437, ty:370, lx:802, ly:429, xMin:-8.4, xMax:153.1, red:'#f2645f', redW:3},
 {key:'f', pre:'(f)', title:'Social Distancing by IDU Quartiles', gap:21, legend:'IDU Quartile',
  rows:[IDU_Residential,IDU_Workplaces,IDU_Parks,IDU_Transit,IDU_Re_Re,IDU_Gro_Phar], ranges:IDU_ranges, ticks:IDU_ticks,
  box:{left:891,right:1226,top:427,bottom:716}, tx:866, ty:370, lx:1231, ly:429, xMin:-7, xMax:153.8, red:'#e8141c', redW:2}
];

Chart.defaults.font.family = "'Liberation Sans', Arial, sans-serif";
Chart.defaults.color = '#555';

function makeOverlay(p, sepLeft) {
  return {
    id: 'overlay_' + p.key,
    beforeDatasetsDraw(chart) {
      const ctx = chart.ctx, ca = chart.chartArea;
      ctx.save();
      ctx.strokeStyle = '#dadada'; ctx.lineWidth = 1.5;
      rowNames.forEach((n, r) => {
        const s = chart.scales['y' + r];
        if (r > 0) {
          const y = Math.round(s.top) + 0.5;
          ctx.beginPath(); ctx.moveTo(sepLeft, y); ctx.lineTo(ca.right, y); ctx.stroke();
        }
      });
      ctx.lineWidth = 1;
      ctx.strokeStyle = '#dedede';
      ctx.beginPath(); ctx.moveTo(ca.left, Math.round(ca.top)+0.5); ctx.lineTo(ca.right, Math.round(ca.top)+0.5); ctx.stroke();
      ctx.beginPath(); ctx.moveTo(Math.round(ca.right)+0.5, ca.top); ctx.lineTo(Math.round(ca.right)+0.5, ca.bottom); ctx.stroke();
      ctx.restore();
    },
    afterDatasetsDraw(chart) {
      const ctx = chart.ctx, ca = chart.chartArea, xs = chart.scales.x;
      ctx.save();
      ctx.setLineDash([4, 3]); ctx.strokeStyle = '#f5903a'; ctx.lineWidth = 1.4;
      rowNames.forEach((n, r) => {
        const s = chart.scales['y' + r];
        const y = Math.round(s.getPixelForValue(0)) + 0.5;
        ctx.beginPath(); ctx.moveTo(ca.left, y); ctx.lineTo(ca.right, y); ctx.stroke();
      });
      ctx.setLineDash([]);
      const mx = xs.getPixelForValue(markerDay);
      ctx.strokeStyle = p.red; ctx.lineWidth = p.redW;
      ctx.beginPath(); ctx.moveTo(mx, ca.top); ctx.lineTo(mx, ca.bottom); ctx.stroke();
      ctx.fillStyle = p.red; ctx.font = "italic 6.5px 'Liberation Sans', Arial, sans-serif";
      ctx.textBaseline = 'middle'; ctx.textAlign = 'left';
      ctx.fillText(markerLabel, mx + 2, ca.top + 5);
      ctx.restore();
    }
  };
}

panels.forEach(p => {
  // title
  const t = document.createElement('div');
  t.className = 'title';
  t.style.left = p.tx + 'px'; t.style.top = p.ty + 'px';
  const s1 = document.createElement('span'); s1.textContent = p.pre;
  const s2 = document.createElement('span'); s2.textContent = p.title; s2.style.marginLeft = p.gap + 'px';
  t.appendChild(s1); t.appendChild(s2);
  document.body.appendChild(t);

  // legend
  const lg = document.createElement('div');
  lg.className = 'legend'; lg.style.left = p.lx + 'px'; lg.style.top = p.ly + 'px';
  const lt = document.createElement('div'); lt.className = 'lt'; lt.textContent = p.legend; lg.appendChild(lt);
  quartileLabels.forEach((q, i) => {
    const sw = document.createElement('div'); sw.className = 'sw';
    sw.style.top = (9.5 + i * 9.7) + 'px'; sw.style.background = quartileColors[i];
    const ll = document.createElement('div'); ll.className = 'll';
    ll.style.top = (9.5 + i * 9.7) + 'px'; ll.textContent = q;
    lg.appendChild(sw); lg.appendChild(ll);
  });
  document.body.appendChild(lg);

  // canvas
  const cvLeft = p.box.left - 40, cvTop = p.box.top - 10;
  const W = p.box.right - cvLeft + 6, H = p.box.bottom - cvTop + 14;
  const cv = document.createElement('canvas');
  cv.className = 'cv'; cv.width = W; cv.height = H;
  cv.style.left = cvLeft + 'px'; cv.style.top = cvTop + 'px';
  cv.style.width = W + 'px'; cv.style.height = H + 'px';
  document.body.appendChild(cv);

  const scales = {
    x: {
      type: 'linear', position: 'bottom', min: p.xMin, max: p.xMax,
      afterBuildTicks: sc => { sc.ticks = xTickDays.map(v => ({value: v})); },
      ticks: {
        autoSkip: false, maxRotation: 0, padding: 2, color: '#555', font: {size: 6},
        callback: v => { const i = xTickDays.indexOf(v); return i >= 0 ? xTickLabels[i] : ''; }
      },
      grid: {display: false, drawTicks: false},
      border: {display: true, color: '#d6d6d6', width: 1}
    }
  };
  rowNames.forEach((name, r) => {
    scales['y' + r] = {
      type: 'linear', position: 'left', stack: 'rows', stackWeight: 1, weight: 6 - r,
      min: p.ranges[r][0], max: p.ranges[r][1],
      afterBuildTicks: sc => { sc.ticks = p.ticks[r].map(v => ({value: v})); },
      ticks: {autoSkip: false, font: {size: 6}, color: '#555', padding: 3, callback: v => String(v)},
      grid: {color: '#f0f0f0', drawTicks: false, lineWidth: 1},
      border: {display: true, color: '#d6d6d6', width: 1},
      title: {display: true, text: name, color: '#333', font: {size: 6.5, weight: 'bold'}, padding: {top: 0, bottom: 3}}
    };
  });

  const datasets = [];
  p.rows.forEach((rowData, r) => {
    rowData.forEach((series, q) => {
      datasets.push({
        label: rowNames[r] + ' ' + quartileLabels[q],
        data: days.map((d, i) => ({x: d, y: series[i]})),
        yAxisID: 'y' + r, xAxisID: 'x',
        borderColor: quartileColors[q], backgroundColor: quartileColors[q],
        borderWidth: 1.6, pointRadius: 0, tension: 0, fill: false,
        order: 4 - q
      });
    });
  });

  const pad = {left: 0, top: 0, right: 4, bottom: 0};
  const chart = new Chart(cv, {
    type: 'line',
    data: {datasets},
    options: {
      responsive: false, maintainAspectRatio: false, animation: false, devicePixelRatio: 1,
      layout: {padding: pad},
      plugins: {legend: {display: false}, tooltip: {enabled: false}},
      scales
    },
    plugins: [makeOverlay(p, p.box.left - 23 - cvLeft)]
  });
  // align chart area to the target plot box
  const ca = chart.chartArea;
  const dl = p.box.left - cvLeft, dt = p.box.top - cvTop, dr = p.box.right - cvLeft, db = p.box.bottom - cvTop;
  chart.options.layout.padding = {
    left: pad.left + (dl - ca.left),
    top: pad.top + (dt - ca.top),
    right: pad.right + (ca.right - dr),
    bottom: pad.bottom + (ca.bottom - db)
  };
  chart.update();
});
</script>
</body></html>
